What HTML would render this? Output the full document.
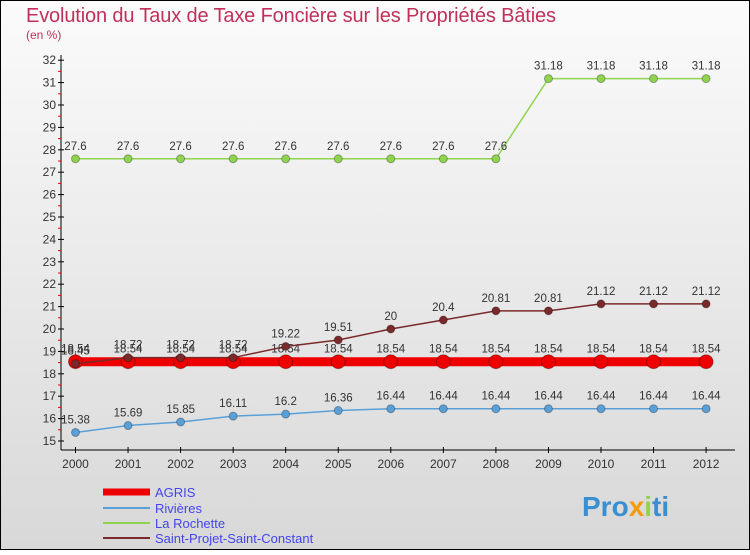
<!DOCTYPE html>
<html><head><meta charset="utf-8"><style>
body{margin:0}
#c{width:750px;height:550px;position:relative;font-family:"Liberation Sans",sans-serif;}
</style></head><body>
<div id="c">
<svg id="s" width="750" height="550" xmlns="http://www.w3.org/2000/svg">
<defs><linearGradient id="bg" x1="0" y1="0" x2="0" y2="1"><stop offset="0" stop-color="#fbfbfb"/><stop offset="1" stop-color="#d8d8d8"/></linearGradient></defs>
<rect x="0.5" y="0.5" width="749" height="549" fill="url(#bg)" stroke="#000"/>
<text x="26" y="22" font-size="20" fill="#c0305a" textLength="530">Evolution du Taux de Taxe Foncière sur les Propriétés Bâties</text>
<text x="26" y="39" font-size="12" fill="#c0305a">(en %)</text>
<g id="g"></g>
<g font-size="13" fill="#4444ee">
<line x1="103" y1="492" x2="150" y2="492" stroke="#e00" stroke-width="7"/>
<text x="155" y="497">AGRIS</text>
<line x1="103" y1="508" x2="150" y2="508" stroke="#5aa0d8" stroke-width="2"/>
<text x="155" y="513">Rivières</text>
<line x1="103" y1="523" x2="150" y2="523" stroke="#8ed44f" stroke-width="2"/>
<text x="155" y="528">La Rochette</text>
<line x1="103" y1="538" x2="150" y2="538" stroke="#7a2a2a" stroke-width="2"/>
<text x="155" y="543">Saint-Projet-Saint-Constant</text>
</g>
<text x="582" y="516" font-size="28" font-weight="bold" fill="#3a8fd0">Pro<tspan fill="#f39c12">x</tspan><tspan fill="#8ed44f">i</tspan>ti</text>
</svg>
</div>
<script>
const years=[2000,2001,2002,2003,2004,2005,2006,2007,2008,2009,2010,2011,2012];
const agris=[18.54,18.54,18.54,18.54,18.54,18.54,18.54,18.54,18.54,18.54,18.54,18.54,18.54];
const rivieres=[15.38,15.69,15.85,16.11,16.2,16.36,16.44,16.44,16.44,16.44,16.44,16.44,16.44];
const rochette=[27.6,27.6,27.6,27.6,27.6,27.6,27.6,27.6,27.6,31.18,31.18,31.18,31.18];
const stprojet=[18.45,18.72,18.72,18.72,19.22,19.51,20,20.4,20.81,20.81,21.12,21.12,21.12];
const yTicks=[15,16,17,18,19,20,21,22,23,24,25,26,27,28,29,30,31,32];
const NS="http://www.w3.org/2000/svg";
const g=document.getElementById('g');
function X(i){return 75.5+i*52.55;}
function Y(v){return 441-(v-15)*22.4;}
function el(t,a){const e=document.createElementNS(NS,t);for(const k in a)e.setAttribute(k,a[k]);g.appendChild(e);return e;}
let e=el('line',{x1:61,y1:55,x2:61,y2:450,stroke:'#000'});


e=el('line',{x1:61,y1:450,x2:735,y2:450,stroke:'#000'});


yTicks.forEach(v=>{
 let t=el('line',{x1:58,y1:Y(v),x2:64,y2:Y(v),stroke:'#000'});
 
 
 if(v<32){let r=el('line',{x1:58,y1:Y(v+0.5),x2:61,y2:Y(v+0.5),stroke:'#e00'});
 
 }
 let l=el('text',{x:56,y:Y(v)+4,'font-size':12,'text-anchor':'end',fill:'#333'});l.textContent=v;
 
 
});
years.forEach((y,i)=>{
 let t=el('line',{x1:X(i),y1:447,x2:X(i),y2:453,stroke:'#000'});
 
 
 let l=el('text',{x:X(i),y:468,'font-size':12,'text-anchor':'middle',fill:'#333'});l.textContent=y;
 
 
});
function series(vals,color,lw,r,name){
 let p=el('polyline',{points:vals.map((v,i)=>X(i)+','+Y(v)).join(' '),fill:'none',stroke:color,'stroke-width':lw});
 
 
 vals.forEach((v,i)=>{
  let c=el('circle',{cx:X(i),cy:Y(v),r:r,fill:color,stroke:'rgba(0,0,0,0.3)'});
  
  
  let l=el('text',{x:X(i),y:Y(v)-9,'font-size':11.5,'text-anchor':'middle',fill:'#333'});l.textContent=v;
  
  
 });
}
series(agris,'#ee0000',9,7,'agris');
series(rivieres,'#5aa0d8',1.5,4,'rivieres');
series(rochette,'#8ed44f',1.5,4,'la-rochette');
series(stprojet,'#7a2a2a',1.5,4,'saint-projet');
</script>
</body></html>
